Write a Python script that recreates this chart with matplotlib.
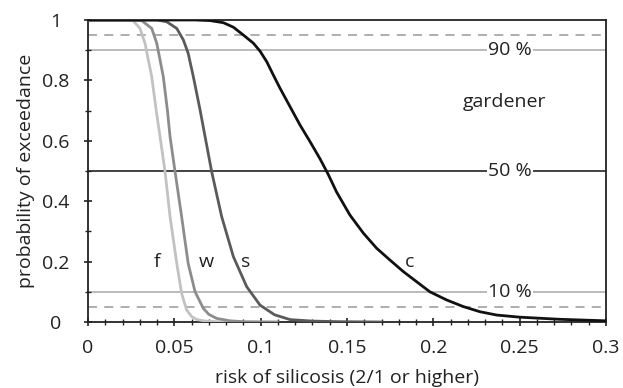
import matplotlib
matplotlib.use('Agg')
import matplotlib.pyplot as plt
from matplotlib.ticker import MultipleLocator

plt.rcParams['font.family'] = ['Open Sans', 'DejaVu Sans']

# curves: risk of silicosis vs probability of exceedance
f_x = [0.0, 0.022, 0.026, 0.0301, 0.033, 0.0349, 0.0369, 0.0395, 0.0417, 0.0446,
       0.0475, 0.0514, 0.0542, 0.0571, 0.060, 0.063, 0.068, 0.0745, 0.09]
f_y = [1.0, 1.0, 0.998, 0.972, 0.923, 0.868, 0.812, 0.700, 0.614, 0.498,
       0.349, 0.194, 0.095, 0.040, 0.018, 0.008, 0.003, 0.001, 0.0]

w_x = [0.0, 0.026, 0.0311, 0.0369, 0.0398, 0.0417, 0.0436, 0.046, 0.0475, 0.0504,
       0.0542, 0.058, 0.062, 0.0668, 0.070, 0.0745, 0.082, 0.09, 0.11]
w_y = [1.0, 1.0, 0.998, 0.972, 0.923, 0.868, 0.812, 0.700, 0.614, 0.498,
       0.349, 0.194, 0.100, 0.045, 0.025, 0.012, 0.004, 0.001, 0.0]

s_x = [0.0, 0.040, 0.0456, 0.0514, 0.0552, 0.058, 0.061, 0.0649, 0.0716, 0.0774,
       0.0842, 0.0919, 0.0996, 0.108, 0.117, 0.13, 0.146, 0.17]
s_y = [1.0, 1.0, 0.994, 0.972, 0.934, 0.890, 0.812, 0.702, 0.498, 0.349,
       0.216, 0.117, 0.056, 0.024, 0.008, 0.003, 0.001, 0.0]

c_x = [0.0, 0.062, 0.0707, 0.0784, 0.0842, 0.090, 0.0958, 0.0996, 0.1035, 0.1073,
       0.1112, 0.117, 0.1228, 0.1286, 0.1344, 0.139, 0.144, 0.1517, 0.1595, 0.1672,
       0.1749, 0.1826, 0.1904, 0.198, 0.2077, 0.2174, 0.227, 0.2367, 0.250, 0.273, 0.2995]
c_y = [1.0, 1.0, 0.998, 0.991, 0.976, 0.950, 0.923, 0.897, 0.862, 0.818,
       0.774, 0.713, 0.652, 0.597, 0.540, 0.490, 0.430, 0.354, 0.294, 0.244,
       0.205, 0.167, 0.133, 0.100, 0.073, 0.051, 0.034, 0.023, 0.016, 0.009, 0.004]

curve_names = ['f', 'w', 's', 'c']
label_pos = [(0.0398, 0.2), (0.0687, 0.2), (0.091, 0.2), (0.1865, 0.2)]

pct_levels = [0.9, 0.5, 0.1]
pct_labels = ['90 %', '50 %', '10 %']
dash_levels = [0.95, 0.05]

x_ticks = [0, 0.05, 0.1, 0.15, 0.2, 0.25, 0.3]
x_labels = ['0', '0.05', '0.1', '0.15', '0.2', '0.25', '0.3']
y_ticks = [0, 0.2, 0.4, 0.6, 0.8, 1.0]
y_labels = ['0', '0.2', '0.4', '0.6', '0.8', '1']

fig = plt.figure(figsize=(6.23, 3.88), dpi=100)
ax = fig.add_axes([0.1413, 0.1701, 0.8314, 0.7784])

# reference levels
for lv in dash_levels:
    ax.axhline(lv, color='#a8a8a8', lw=1.3, ls=(0, (5, 4)), zorder=1)
ax.axhline(0.9, color='#a8a8a8', lw=1.1, zorder=1)
ax.axhline(0.1, color='#a8a8a8', lw=1.1, zorder=1)
ax.axhline(0.5, color='#222222', lw=1.2, zorder=1)

colors = ['#c2c2c2', '#8c8c8c', '#5a5a5a', '#111111']
for xs, ys, col in zip([f_x, w_x, s_x, c_x], [f_y, w_y, s_y, c_y], colors):
    ax.plot(xs, ys, color=col, lw=2.0, zorder=3, solid_capstyle='round',
            solid_joinstyle='round')

for name, (lx, ly) in zip(curve_names, label_pos):
    ax.text(lx, ly, name, fontsize=14, ha='center', va='center', color='#222222', zorder=4)

for lv, lab in zip(pct_levels, pct_labels):
    ax.text(0.2444, lv, lab, fontsize=14, ha='center', va='center', color='#222222',
            bbox=dict(facecolor='white', edgecolor='none', pad=1.0), zorder=2)

ax.text(0.2415, 0.73, 'gardener', fontsize=14, ha='center', va='center', color='#222222')

ax.set_xlim(0, 0.3)
ax.set_ylim(0, 1)
ax.set_xticks(x_ticks)
ax.set_xticklabels(x_labels)
ax.set_yticks(y_ticks)
ax.set_yticklabels(y_labels)
ax.xaxis.set_minor_locator(MultipleLocator(0.01))
ax.yaxis.set_minor_locator(MultipleLocator(0.1))
ax.tick_params(which='major', direction='inout', length=6, width=1.2, labelsize=14,
               colors='#222222')
ax.tick_params(which='minor', direction='inout', length=4, width=1.0, colors='#222222')
ax.tick_params(axis='x', pad=9)
ax.tick_params(axis='y', pad=20)
for lab in ax.get_yticklabels():
    lab.set_horizontalalignment('center')

for sp in ax.spines.values():
    sp.set_linewidth(1.3)
    sp.set_color('#222222')

ax.set_xlabel('risk of silicosis (2/1 or higher)', fontsize=14, color='#222222', labelpad=9)
ax.set_ylabel('probability of exceedance', fontsize=14, color='#222222', labelpad=5)

fig.savefig('out.png', dpi=100)
